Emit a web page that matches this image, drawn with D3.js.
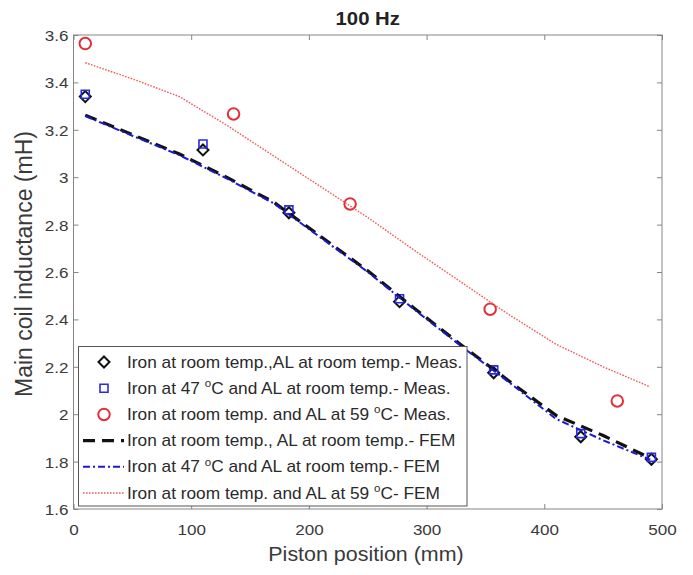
<!DOCTYPE html>
<html>
<head>
<meta charset="utf-8">
<script src="https://cdn.jsdelivr.net/npm/d3@7"></script>
<style>
  html, body { margin: 0; padding: 0; background: #fff; }
  svg { display: block; }
  text { font-family: "Liberation Sans", Arial, Helvetica, sans-serif; }
</style>
</head>
<body>
<svg id="chart" width="693" height="575"></svg>
<script>
// ---- data ----
const measPositions = [10, 110, 183, 277, 357, 431, 491];
const ironRoomMeas  = [3.34, 3.115, 2.85, 2.475, 2.175, 1.905, 1.81];
const iron47Meas    = [3.35, 3.14, 2.862, 2.487, 2.187, 1.918, 1.818];
const al59Positions = [10, 136, 235, 354, 462];
const al59Meas      = [3.564, 3.267, 2.887, 2.443, 2.056];
const femPositions  = [10, 50, 90, 130, 170, 210, 250, 290, 330, 370, 410, 450, 490];
const ironRoomFEM   = [3.262, 3.18, 3.098, 3.0, 2.895, 2.75, 2.605, 2.445, 2.29, 2.14, 1.995, 1.91, 1.815];
const iron47FEM     = [3.258, 3.175, 3.093, 2.995, 2.89, 2.745, 2.6, 2.44, 2.285, 2.135, 1.98, 1.89, 1.808];
const al59FEM       = [3.483, 3.415, 3.34, 3.22, 3.09, 2.96, 2.83, 2.69, 2.555, 2.42, 2.295, 2.2, 2.115];
const xTicks = [0, 100, 200, 300, 400, 500];
const yTicks = [1.6, 1.8, 2, 2.2, 2.4, 2.6, 2.8, 3, 3.2, 3.4, 3.6];
const legendLabels = [
  "Iron at room temp.,AL at room temp.- Meas.",
  "Iron at 47 ^oC and AL at room temp.- Meas.",
  "Iron at room temp. and AL at 59 ^oC- Meas.",
  "Iron at room temp., AL at room temp.- FEM",
  "Iron at 47 ^oC and AL at room temp.- FEM",
  "Iron at room temp. and AL at 59 ^oC- FEM"
];
const titleText = "100 Hz";
const xLabel = "Piston position (mm)";
const yLabel = "Main coil inductance (mH)";

// ---- layout ----
const SX = 1.1; // horizontal glyph stretch of the reference
const L = 73.5, R = 662, T = 35, B = 509;
const svg = d3.select("#chart");
const x = d3.scaleLinear().domain([0, 500]).range([L, R]);
const y = d3.scaleLinear().domain([1.6, 3.6]).range([B, T]);

const axisColor = "#858585", textColor = "#3a3a3a";

// axes
function styleAxis(g) {
  g.select(".domain").remove();
  g.selectAll(".tick line").attr("stroke", axisColor).attr("stroke-width", 1);
}
svg.append("g").attr("transform", `translate(0,${B})`)
  .call(d3.axisBottom(x).tickValues(xTicks).tickSize(-5).tickFormat(d3.format("d")))
  .call(styleAxis)
  .call(g => g.selectAll("text").attr("y", 26.5).attr("dy", null)
    .attr("fill", textColor).attr("font-size", 15.5).attr("transform", `scale(${SX},1)`));
svg.append("g").attr("transform", `translate(0,${T})`)
  .call(d3.axisTop(x).tickValues(xTicks).tickSize(-5).tickFormat(""))
  .call(styleAxis);
svg.append("g").attr("transform", `translate(${L},0)`)
  .call(d3.axisLeft(y).tickValues(yTicks).tickSize(-5).tickFormat(d3.format("~g")))
  .call(styleAxis)
  .call(g => g.selectAll("text").attr("x", -4.5).attr("dy", "0.35em")
    .attr("fill", textColor).attr("font-size", 15.5).attr("transform", `scale(${SX},1)`));
svg.append("g").attr("transform", `translate(${R},0)`)
  .call(d3.axisRight(y).tickValues(yTicks).tickSize(-5).tickFormat(""))
  .call(styleAxis);
svg.append("rect").attr("x", L).attr("y", T).attr("width", R - L).attr("height", B - T)
  .attr("fill", "none").attr("stroke", axisColor).attr("stroke-width", 1);

// title and labels
svg.append("g").attr("transform", `translate(${(L + R) / 2},24.5) scale(${SX},1)`)
  .append("text").attr("text-anchor", "middle").attr("font-weight", "bold")
  .attr("font-size", 18.5).attr("fill", "#222").text(titleText);
svg.append("g").attr("transform", `translate(366,561) scale(${SX},1)`)
  .append("text").attr("text-anchor", "middle").attr("font-size", 19.5)
  .attr("fill", textColor).text(xLabel);
svg.append("g").attr("transform", `translate(32,264) rotate(-90)`)
  .append("text").attr("text-anchor", "middle").attr("font-size", 23)
  .attr("fill", textColor).text(yLabel);

// marker symbol types
const diamondType = { draw(ctx, size) { const r = Math.sqrt(size) / 2; ctx.moveTo(0, -r); ctx.lineTo(r, 0); ctx.lineTo(0, r); ctx.lineTo(-r, 0); ctx.closePath(); } };
const squareType = { draw(ctx, size) { const r = Math.sqrt(size) / 2; ctx.rect(-r, -r, 2 * r, 2 * r); } };
const circleType = { draw(ctx, size) { const r = Math.sqrt(size) / 2; ctx.moveTo(r, 0); ctx.arc(0, 0, r, 0, 2 * Math.PI); } };

const series = [
  { kind: "marker", xs: measPositions, ys: ironRoomMeas, type: diamondType, size: 11 * 11, color: "#111", width: 2 },
  { kind: "marker", xs: measPositions, ys: iron47Meas, type: squareType, size: 8 * 8, color: "#2a2ae0", width: 1.6 },
  { kind: "marker", xs: al59Positions, ys: al59Meas, type: circleType, size: 11.5 * 11.5, color: "#e0303a", width: 2 },
  { kind: "line", xs: femPositions, ys: ironRoomFEM, color: "#111", width: 3.2, dash: "12,7" },
  { kind: "line", xs: femPositions, ys: iron47FEM, color: "#1a1ad0", width: 2, dash: "7,3,2,3" },
  { kind: "line", xs: femPositions, ys: al59FEM, color: "#f05a5a", width: 1.4, dash: "1.6,1.4" }
];

const plot = svg.append("g");
series.forEach(s => {
  const pts = s.xs.map((p, i) => [p, s.ys[i]]);
  if (s.kind === "marker") {
    const sym = d3.symbol().type(s.type).size(s.size);
    plot.selectAll(null).data(pts).join("path")
      .attr("d", sym).attr("transform", d => `translate(${x(d[0])},${y(d[1])})`)
      .attr("fill", "none").attr("stroke", s.color).attr("stroke-width", s.width);
  } else {
    const line = d3.line().x(d => x(d[0])).y(d => y(d[1]));
    plot.append("path").datum(pts).attr("d", line)
      .attr("fill", "none").attr("stroke", s.color).attr("stroke-width", s.width)
      .attr("stroke-dasharray", s.dash);
  }
});

// legend
const lg = { x0: 78.5, y0: 346.5, x1: 467, y1: 506, rowTop: 362, rowStep: 26.2 };
const leg = svg.append("g");
leg.append("rect").attr("x", lg.x0).attr("y", lg.y0).attr("width", lg.x1 - lg.x0).attr("height", lg.y1 - lg.y0)
  .attr("fill", "#fff").attr("stroke", "#555").attr("stroke-width", 1);
series.forEach((s, i) => {
  const cy = lg.rowTop + i * lg.rowStep;
  if (s.kind === "marker") {
    leg.append("path").attr("d", d3.symbol().type(s.type).size(s.size)())
      .attr("transform", `translate(104,${cy})`)
      .attr("fill", "none").attr("stroke", s.color).attr("stroke-width", s.width);
  } else {
    leg.append("line").attr("x1", 83).attr("x2", 124).attr("y1", cy).attr("y2", cy)
      .attr("stroke", s.color).attr("stroke-width", s.width).attr("stroke-dasharray", s.dash);
  }
  const t = leg.append("g").attr("transform", `translate(127,${cy + 5.5}) scale(${SX},1)`)
    .append("text").attr("font-size", 15.7).attr("fill", "#2a2a2a");
  const parts = legendLabels[i].split("^o");
  t.append("tspan").text(parts[0]);
  if (parts.length > 1) {
    t.append("tspan").attr("font-size", 10.5).attr("dy", -6.5).text("o");
    t.append("tspan").attr("dy", 6.5).text(parts[1]);
  }
});
</script>
</body>
</html>
